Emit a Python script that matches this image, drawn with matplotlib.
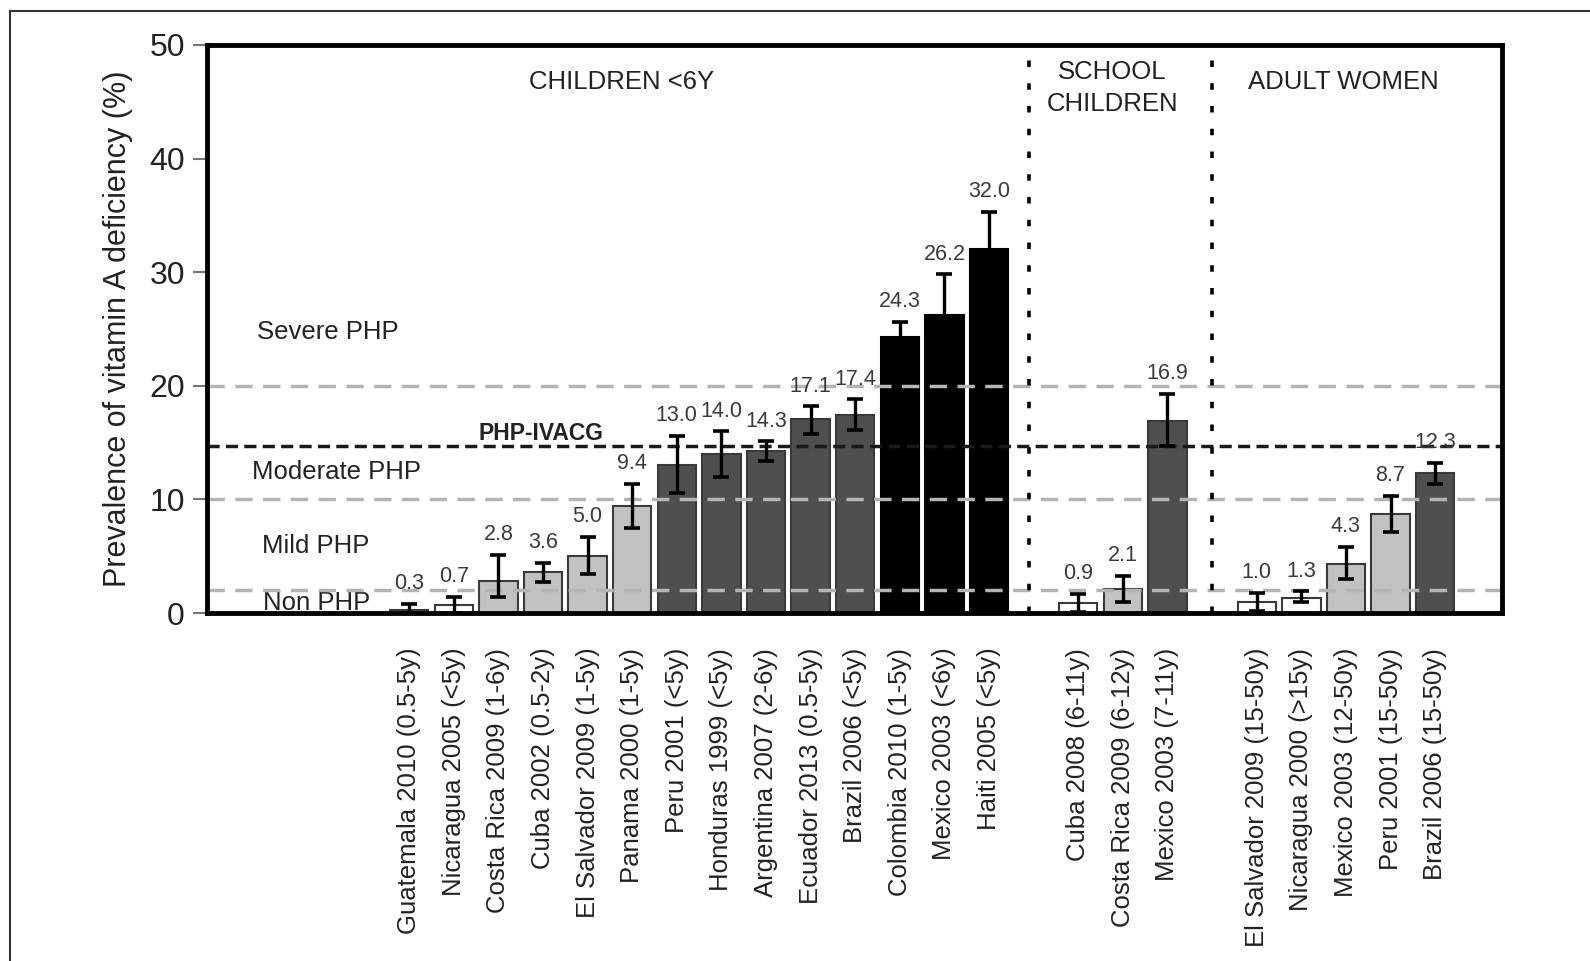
import matplotlib
matplotlib.use("Agg")
import matplotlib.pyplot as plt
from matplotlib.lines import Line2D

plt.rcParams['font.family'] = ['Liberation Sans', 'DejaVu Sans']

# data
children = ["Guatemala 2010 (0.5-5y)", "Nicaragua 2005 (<5y)", "Costa Rica 2009 (1-6y)",
            "Cuba 2002 (0.5-2y)", "El Salvador 2009 (1-5y)", "Panama 2000 (1-5y)",
            "Peru 2001 (<5y)", "Honduras 1999 (<5y)", "Argentina 2007 (2-6y)",
            "Ecuador 2013 (0.5-5y)", "Brazil 2006 (<5y)", "Colombia 2010 (1-5y)",
            "Mexico 2003 (<6y)", "Haiti 2005 (<5y)"]
children_val = [0.3, 0.7, 2.8, 3.6, 5.0, 9.4, 13.0, 14.0, 14.3, 17.1, 17.4, 24.3, 26.2, 32.0]
children_lo = [0.0, 0.0, 1.4, 2.7, 3.4, 7.5, 10.6, 12.0, 13.4, 15.8, 16.1, 23.0, 22.6, 28.7]
children_hi = [0.8, 1.4, 5.1, 4.4, 6.7, 11.4, 15.6, 16.0, 15.1, 18.2, 18.8, 25.6, 29.8, 35.3]

school = ["Cuba 2008 (6-11y)", "Costa Rica 2009 (6-12y)", "Mexico 2003 (7-11y)"]
school_val = [0.9, 2.1, 16.9]
school_lo = [0.1, 1.0, 14.7]
school_hi = [1.7, 3.3, 19.3]

women = ["El Salvador 2009 (15-50y)", "Nicaragua 2000 (>15y)", "Mexico 2003 (12-50y)",
         "Peru 2001 (15-50y)", "Brazil 2006 (15-50y)"]
women_val = [1.0, 1.3, 4.3, 8.7, 12.3]
women_lo = [0.2, 1.0, 3.0, 7.1, 11.4]
women_hi = [1.8, 1.9, 5.8, 10.3, 13.2]

thresholds = [2, 10, 20]
ivacg = 14.7

labels = children + school + women
vals = children_val + school_val + women_val
lo = children_lo + school_lo + women_lo
hi = children_hi + school_hi + women_hi
xs = list(range(14)) + [15, 16, 17] + [19, 20, 21, 22, 23]


def bar_color(v):
    if v < 2:
        return "white"
    if v < 10:
        return "#c2c2c2"
    if v < 20:
        return "#4f4f4f"
    return "black"


fig = plt.figure(figsize=(15.9, 9.61), dpi=100)
ax = fig.add_axes([0.1302, 0.3621, 0.8145, 0.5911])

cols = [bar_color(v) for v in vals]
edges = ["black" if c == "black" else "#3a3a3a" for c in cols]
ax.bar(xs, vals, width=0.86, color=cols, edgecolor=edges, linewidth=1.5, zorder=2)

yerr = [[v - l for v, l in zip(vals, lo)], [h - v for v, h in zip(vals, hi)]]
ax.errorbar(xs, vals, yerr=yerr, fmt="none", ecolor="black", elinewidth=2.4,
            capsize=5.5, capthick=2.6, zorder=5)

for x, v, h in zip(xs, vals, hi):
    ax.annotate(f"{v:.1f}", (x, h), xytext=(0, 7), textcoords="offset points",
                ha="center", va="bottom", fontsize=15.5, color="#3a3a3a", zorder=6)

# reference lines
for t in thresholds:
    ax.axhline(t, color="#b4b4b4", lw=2.5, ls=(0, (5, 3)), zorder=3)
ax.axhline(ivacg, color="#1a1a1a", lw=2.5, ls=(0, (3.5, 1.8)), zorder=3)
for xv in [13.9, 18.0]:
    ax.axvline(xv, color="black", lw=2.6, ls=(0, (1.8, 4.5)), zorder=3)

# zone texts
zone_kw = dict(fontsize=18.5, color="#222222", va="center", ha="left")
ax.text(-3.41, 24.7, "Severe PHP", **zone_kw)
ax.text(1.55, 15.8, "PHP-IVACG", fontsize=16.5, fontweight="bold", color="#222222",
        va="center", ha="left")
ax.text(-3.52, 12.4, "Moderate PHP", **zone_kw)
ax.text(-3.3, 5.9, "Mild PHP", **zone_kw)
ax.text(-3.27, 0.9, "Non PHP", zorder=1, **zone_kw)

ax.text(4.77, 46.7, "CHILDREN <6Y", fontsize=18.5, color="#222222", ha="center", va="center")
ax.text(15.76, 46.2, "SCHOOL\nCHILDREN", fontsize=18.5, color="#222222", ha="center",
        va="center", linespacing=1.45)
ax.text(20.94, 46.7, "ADULT WOMEN", fontsize=18.5, color="#222222", ha="center", va="center")

ax.set_xlim(-4.53, 24.5)
ax.set_ylim(0, 50)
ax.set_yticks([0, 10, 20, 30, 40, 50])
ax.tick_params(axis="y", labelsize=23, length=10, width=1.5, color="#777777", pad=6,
               labelcolor="#222222")
ax.set_xticks(xs)
ax.set_xticklabels(labels, rotation=90, fontsize=18.5, color="#222222")
ax.tick_params(axis="x", length=0, pad=25)
for s in ax.spines.values():
    s.set_linewidth(3.5)
    s.set_zorder(7)
ax.set_ylabel("Prevalence of vitamin A deficiency (%)", fontsize=22, color="#222222",
              labelpad=12)

# outer frame (top and left)
fig.add_artist(Line2D([0.006, 1.0], [0.9885, 0.9885], color="#333333", lw=1.5))
fig.add_artist(Line2D([0.0065, 0.0065], [0.0, 0.9885], color="#333333", lw=1.5))

fig.savefig("out.png", dpi=100)
